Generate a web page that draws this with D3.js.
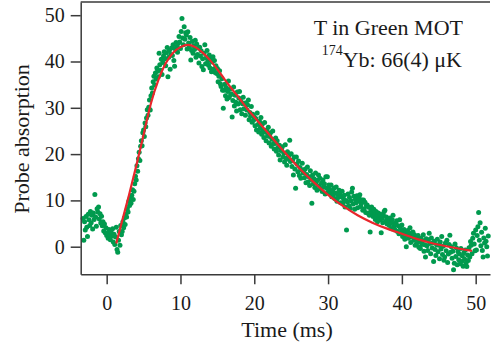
<!DOCTYPE html>
<html>
<head>
<meta charset="utf-8">
<script src="https://cdn.jsdelivr.net/npm/d3@7"></script>
<style>
  body { margin: 0; background: #fff; }
  svg text { font-family: "Liberation Serif", "Times New Roman", serif; fill: #1a1a1a; }
</style>
</head>
<body>
<svg id="chart" width="491" height="346"></svg>
<script>
// probe absorption, sampled every 0.1 ms starting at -3.2 ms (one row = 1 ms)
var sampleStart = -3.2, sampleStep = 0.1;
var absorption = [
  6.1, 1.4, 5.4, 3.6, 6.5, 4.2, 2.2, 7.0, 5.8, 4.6,
  7.6, 5.2, 6.8, 3.8, 7.3, 5.9, 11.3, 6.4, 4.4, 8.2,
  7.5, 8.6, 6.0, 7.1, 5.1, 6.6, 4.5, 5.4, 3.4, 4.9,
  3.0, 4.1, 2.4, 2.9, 1.8, 3.7, 2.6, 1.5, 3.2, 2.3,
  3.9, 1.0, 2.7, 0.5, 2.1, 4.2, -0.6, -1.2, 1.4, 3.3,
  0.3, 4.6, 2.6, 3.3, 5.4, 4.1, 6.2, 4.8, 7.0, 6.4,
  8.2, 7.5, 9.8, 8.9, 10.6, 9.4, 11.1, 12.3, 10.2, 12.0,
  13.6, 15.2, 14.4, 17.5, 16.3, 19.0, 20.4, 18.6, 21.7, 22.9,
  21.8, 24.6, 25.2, 23.8, 26.7, 25.9, 27.8, 29.6, 28.4, 30.1,
  31.7, 29.5, 32.6, 34.3, 33.2, 35.6, 36.8, 34.9, 37.5, 36.2,
  38.6, 37.9, 36.7, 41.8, 39.3, 38.1, 40.5, 37.2, 39.8, 41.2,
  42.1, 40.6, 39.1, 41.9, 43.0, 36.7, 40.9, 42.4, 38.3, 41.5,
  42.9, 41.3, 43.6, 40.2, 39.0, 42.7, 44.1, 43.2, 42.0, 43.9,
  45.4, 44.2, 42.8, 46.5, 49.3, 45.1, 43.6, 47.5, 44.8, 46.2,
  45.7, 42.7, 46.4, 44.0, 43.1, 45.2, 40.3, 42.4, 44.3, 41.8,
  43.4, 42.6, 44.6, 40.9, 43.8, 41.5, 42.9, 39.7, 43.1, 41.2,
  42.3, 38.9, 40.6, 38.2, 41.8, 43.6, 39.5, 40.8, 42.4, 40.1,
  39.2, 41.4, 38.6, 40.7, 37.8, 39.9, 41.0, 38.4, 40.2, 37.6,
  39.1, 37.4, 38.5, 35.6, 36.8, 38.0, 35.2, 34.6, 36.3, 33.8,
  29.9, 33.8, 35.1, 32.6, 34.4, 31.9, 33.5, 35.8, 32.2, 34.0,
  32.8, 33.0, 28.0, 31.6, 34.5, 30.4, 32.7, 31.2, 29.3, 33.4,
  30.8, 32.1, 33.5, 29.6, 31.4, 28.7, 30.9, 32.3, 29.8, 31.0,
  28.4, 31.1, 29.5, 30.6, 31.7, 27.4, 29.0, 28.2, 30.3, 26.9,
  28.6, 27.3, 28.0, 26.1, 27.7, 25.2, 28.9, 26.4, 24.8, 27.1,
  25.6, 27.9, 24.3, 26.5, 25.1, 23.6, 26.8, 24.7, 22.9, 25.2,
  23.9, 25.8, 22.4, 23.8, 24.6, 21.7, 23.2, 25.0, 22.3, 21.1,
  22.3, 23.5, 20.6, 22.9, 21.4, 19.8, 21.9, 18.7, 20.8, 20.9,
  21.6, 19.4, 20.2, 18.3, 22.0, 19.1, 17.6, 20.5, 18.9, 19.7,
  23.0, 18.4, 20.1, 17.3, 18.7, 15.5, 19.4, 16.8, 12.6, 19.4,
  17.9, 16.2, 18.5, 15.4, 17.1, 14.8, 16.6, 18.0, 15.9, 16.3,
  14.9, 16.8, 13.8, 15.6, 17.2, 14.0, 15.1, 13.2, 16.4, 14.5,
  9.4, 15.5, 13.6, 14.7, 12.8, 15.9, 13.9, 12.2, 14.4, 15.5,
  13.1, 14.8, 12.5, 13.7, 11.9, 14.4, 12.9, 13.6, 11.4, 15.1,
  12.6, 15.1, 11.8, 13.3, 12.4, 11.5, 13.3, 10.8, 12.1, 11.2,
  12.7, 10.4, 11.6, 12.9, 9.8, 11.3, 10.6, 12.2, 11.5, 9.5,
  10.8, 12.0, 9.4, 10.3, 11.1, 8.6, 10.0, 3.6, 9.7, 11.4,
  8.9, 10.6, 8.3, 9.9, 11.8, 12.6, 9.2, 10.9, 8.1, 10.2,
  9.5, 11.0, 8.4, 9.8, 10.5, 11.2, 8.7, 9.3, 10.1, 7.9,
  10.1, 8.2, 9.6, 7.4, 8.9, 9.0, 7.2, 8.5, 6.8, 3.2,
  7.9, 8.6, 7.2, 6.5, 8.1, 7.0, 5.9, 7.6, 6.3, 5.4,
  7.3, 6.5, 5.8, 7.0, 3.0, 6.1, 5.2, 6.8, 7.6, 7.9,
  5.5, 6.4, 4.9, 6.0, 5.3, 4.6, 6.2, 5.1, 3.9, 5.8,
  6.8, 4.3, 5.0, 3.6, 4.8, 5.6, 3.3, 4.5, 2.8, 5.8,
  4.0, 3.1, 4.7, 2.2, 2.9, 3.7, 1.6, 3.3, 0.0, 2.5,
  3.5, 1.8, 2.7, 4.1, 0.9, 2.2, 3.0, 3.2, 1.4, 2.6,
  0.3, 2.0, 0.7, 1.6, 2.4, -0.1, 1.1, -0.4, 1.8, 0.5,
  1.3, 2.6, -1.0, 0.4, -2.2, 1.7, 0.2, -0.8, 1.5, 2.9,
  0.7, -1.5, 1.9, -0.3, 0.8, -3.2, 1.2, -0.6, -1.9, 0.4,
  1.6, -1.1, 0.3, -2.6, 1.0, -0.5, 2.2, -1.7, 0.1, -2.9,
  -2.2, 0.8, -0.9, 1.4, -3.4, -1.6, 0.5, 2.5, -1.2, 0.0,
  -2.5, -1.0, -5.0, -3.6, 0.6, -2.1, -0.3, -3.9, -1.1, -2.8,
  -1.6, -3.7, -0.4, -3.2, -2.0, -4.2, -1.3, -2.7, -0.7, -3.5,
  -4.3, -1.8, -3.0, -0.2, -2.2, 1.1, 0.3, -1.5, 1.8, 2.9,
  0.6, -0.9, 3.6, -0.7, 2.4, 4.3, 7.4, 1.4, 5.2, 0.2,
  3.1, -0.8, -2.2, 1.9, 0.8, 4.0, 1.2, 0.0, -2.0, 2.3
];

// fitted curve
var fitTime = [1.3, 2, 3, 4, 5, 6, 7, 8, 9, 10, 11, 12, 13, 14, 15, 16, 17, 18, 19, 20,
               22, 24, 26, 28, 30, 32, 34, 36, 38, 40, 42, 44, 46, 48, 49.5];
var fitValue = [0.7, 5.0, 11.0, 17.4, 24.2, 31.0, 36.0, 39.6, 41.9, 43.1, 43.6, 43.1, 41.9, 40.3, 38.3, 36.1, 34.0, 32.0, 29.9, 28.0,
                24.3, 20.6, 17.1, 14.0, 11.2, 8.8, 6.8, 5.2, 3.9, 2.8, 1.7, 0.8, 0.1, -0.5, -0.9];

var xTicks = [0, 10, 20, 30, 40, 50];
var yTicks = [0, 10, 20, 30, 40, 50];
var xTitle = "Time (ms)";
var yTitle = "Probe absorption";
var noteLine1 = "T in Green MOT";
var noteIsotope = "174";
var noteLine2 = "Yb: 66(4) μK";

var svg = d3.select("#chart"),
    plotLeft = 80.7, plotRight = 490, plotTop = 2, plotBottom = 274.3,
    axisColor = "#3a3a3a";

var x = d3.scaleLinear().domain([-3.52, 51.94]).range([plotLeft, plotRight]);
var y = d3.scaleLinear().domain([-5.96, 52.85]).range([plotBottom, plotTop]);

var points = absorption.map(function (v, i) {
    return { t: sampleStart + i * sampleStep, v: v };
});

// data dots
svg.append("g")
    .selectAll("circle")
    .data(points)
    .enter().append("circle")
    .attr("cx", function (d) { return x(d.t); })
    .attr("cy", function (d) { return y(d.v); })
    .attr("r", 2.5)
    .attr("fill", "#009a4e");

// fit
var line = d3.line()
    .x(function (d) { return x(d[0]); })
    .y(function (d) { return y(d[1]); })
    .curve(d3.curveMonotoneX);

svg.append("path")
    .datum(d3.zip(fitTime, fitValue))
    .attr("d", line)
    .attr("fill", "none")
    .attr("stroke", "#e8262b")
    .attr("stroke-width", 2.2);

// axes
var gx = svg.append("g")
    .attr("transform", "translate(0," + plotBottom + ")")
    .call(d3.axisBottom(x).tickValues(xTicks).tickSize(10).tickSizeOuter(0));
gx.selectAll("text").attr("y", 35.7).attr("dy", 0).attr("font-size", "20px");

var gy = svg.append("g")
    .attr("transform", "translate(" + plotLeft + ",0)")
    .call(d3.axisLeft(y).tickValues(yTicks).tickSize(10).tickPadding(6).tickSizeOuter(0));
gy.selectAll("text").attr("font-size", "20px");

svg.selectAll(".domain, .tick line")
    .attr("stroke", axisColor)
    .attr("stroke-width", 1.5);
svg.selectAll(".tick text").attr("fill", "#1a1a1a").attr("font-family", null);

// top frame line
svg.append("line")
    .attr("x1", plotLeft).attr("x2", plotRight)
    .attr("y1", plotTop).attr("y2", plotTop)
    .attr("stroke", axisColor)
    .attr("stroke-width", 1.5);

// titles
svg.append("text")
    .attr("x", 287).attr("y", 336.7)
    .attr("text-anchor", "middle")
    .attr("font-size", "22px")
    .text(xTitle);

svg.append("text")
    .attr("transform", "translate(29,139) rotate(-90)")
    .attr("text-anchor", "middle")
    .attr("font-size", "22px")
    .text(yTitle);

// annotation
svg.append("text")
    .attr("x", 463).attr("y", 35)
    .attr("text-anchor", "end")
    .attr("font-size", "22px")
    .text(noteLine1);

var note2 = svg.append("text")
    .attr("x", 462).attr("y", 66.7)
    .attr("text-anchor", "end")
    .attr("font-size", "22px");
note2.append("tspan").attr("font-size", "14px").attr("dy", -12).text(noteIsotope);
note2.append("tspan").attr("dy", 12).text(noteLine2);
</script>
</body>
</html>
